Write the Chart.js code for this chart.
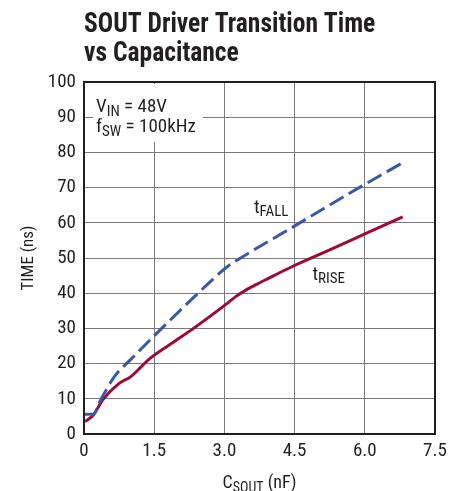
<!DOCTYPE html>
<html>
<head>
<meta charset="utf-8">
<script src="https://cdn.jsdelivr.net/npm/chart.js@4.4.1/dist/chart.umd.min.js"></script>
<style>
  html, body { margin: 0; padding: 0; background: #fff; }
  #wrap { width: 472px; height: 491px; position: relative; }
</style>
</head>
<body>
<div id="wrap"><canvas id="tChart"></canvas></div>
<script>
const FONT = "'Liberation Sans Narrow', 'Roboto Condensed', 'DejaVu Sans Condensed', sans-serif";

// values
const fallCap = [0.0, 0.2, 0.35, 0.65, 1.0, 1.41, 2.0, 2.5, 3.06, 3.31, 4.4, 5.88, 6.8];
const fallNs  = [5.6, 5.6, 9.5, 16.3, 21.2, 26.7, 34.4, 40.8, 47.5, 49.7, 58.3, 70.0, 77.0];

const riseCap = [0.02, 0.2, 0.4, 0.75, 1.0, 1.41, 1.9, 2.34, 3.06, 3.25, 3.45, 3.7, 3.91, 4.41, 5.25, 6.06, 6.81];
const riseNs  = [3.5, 5.4, 9.7, 14.4, 16.3, 21.5, 26.0, 30.0, 37.1, 39.1, 40.8, 42.6, 44.0, 47.3, 52.3, 57.2, 61.7];

const xTicks = [0, 1.5, 3.0, 4.5, 6.0, 7.5];
const xTickLabels = ["0", "1.5", "3.0", "4.5", "6.0", "7.5"];

const toPts = (xs, ys) => xs.map((x, i) => ({ x: x, y: ys[i] }));

// text with subscript helper
function subText(ctx, x, y, main, sub, size, subSize, drop) {
    ctx.font = size + "px " + FONT;
    ctx.fillText(main, x, y);
    const w = ctx.measureText(main).width;
    ctx.font = subSize + "px " + FONT;
    ctx.fillText(sub, x + w, y + drop);
    return x + w + ctx.measureText(sub).width;
}

const decor = {
    id: "decor",
    afterDraw(chart) {
        const ctx = chart.ctx;
        const a = chart.chartArea;
        const xs = chart.scales.x;
        const ys = chart.scales.y;
        ctx.save();
        ctx.fillStyle = "#231f20";
        ctx.textBaseline = "alphabetic";
        ctx.textAlign = "left";

        // title (squeezed a bit, the original face is condensed)
        ctx.save();
        ctx.translate(a.left, 0);
        ctx.scale(0.912, 1);
        ctx.font = "bold 28px " + FONT;
        ctx.fillText("SOUT Driver Transition Time", 0, 32);
        ctx.fillText("vs Capacitance", 0, 61);
        ctx.restore();

        // condition box
        ctx.fillStyle = "#fff";
        ctx.fillRect(a.left + 9, a.top + 2, 110, 58);
        ctx.fillStyle = "#231f20";
        let end = subText(ctx, a.left + 12, a.top + 30, "V", "IN", 19, 15, 4);
        ctx.font = "19px " + FONT;
        ctx.fillText(" = 48V", end, a.top + 30);
        end = subText(ctx, a.left + 12, a.top + 50, "f", "SW", 19, 15, 4);
        ctx.font = "19px " + FONT;
        ctx.fillText(" = 100kHz", end, a.top + 50);

        // curve labels
        subText(ctx, xs.getPixelForValue(3.63), ys.getPixelForValue(62.8), "t", "FALL", 19, 15, 3);
        subText(ctx, xs.getPixelForValue(4.88), ys.getPixelForValue(43.8), "t", "RISE", 19, 15, 3);

        // axis titles
        ctx.font = "18px " + FONT;
        const cw = ctx.measureText("C").width;
        ctx.font = "14px " + FONT;
        const sw = ctx.measureText("SOUT").width;
        ctx.font = "18px " + FONT;
        const rw = ctx.measureText(" (nF)").width;
        const tx = (a.left + a.right) / 2 - (cw + sw + rw) / 2;
        end = subText(ctx, tx, 488, "C", "SOUT", 18, 14, 4);
        ctx.font = "18px " + FONT;
        ctx.fillText(" (nF)", end, 488);

        ctx.translate(33, (a.top + a.bottom) / 2);
        ctx.rotate(-Math.PI / 2);
        ctx.textAlign = "center";
        ctx.font = "17px " + FONT;
        ctx.fillText("TIME (ns)", 0, 0);
        ctx.restore();

        // frame
        ctx.save();
        ctx.strokeStyle = "#231f20";
        ctx.lineWidth = 2;
        ctx.strokeRect(a.left, a.top, a.right - a.left, a.bottom - a.top);
        ctx.restore();
    }
};

new Chart(document.getElementById("tChart").getContext("2d"), {
    type: "line",
    data: {
        datasets: [
            {
                label: "tFALL",
                data: toPts(fallCap, fallNs),
                borderColor: "#3a58a6",
                borderWidth: 3,
                borderDash: [16, 6],
                pointRadius: 0,
                cubicInterpolationMode: "monotone",
                fill: false
            },
            {
                label: "tRISE",
                data: toPts(riseCap, riseNs),
                borderColor: "#9c0b36",
                borderWidth: 3,
                pointRadius: 0,
                cubicInterpolationMode: "monotone",
                fill: false
            }
        ]
    },
    options: {
        responsive: true,
        maintainAspectRatio: false,
        animation: false,
        layout: { padding: { top: 82, right: 37, left: 0, bottom: 0 } },
        plugins: {
            legend: { display: false },
            tooltip: { enabled: false }
        },
        scales: {
            x: {
                type: "linear",
                min: 0,
                max: 7.5,
                afterFit: s => { s.height = 57; },
                afterBuildTicks: s => { s.ticks = xTicks.map(v => ({ value: v })); },
                ticks: {
                    padding: 6,
                    color: "#231f20",
                    font: { family: FONT, size: 19 },
                    callback: (v) => xTickLabels[xTicks.indexOf(v)] ?? ""
                },
                grid: { color: "#7a7a7a", lineWidth: 1, drawTicks: false },
                border: { display: false }
            },
            y: {
                min: 0,
                max: 100,
                afterFit: s => { s.width = 84; },
                ticks: {
                    stepSize: 10,
                    padding: 8,
                    color: "#231f20",
                    font: { family: FONT, size: 19 }
                },
                grid: { color: "#7a7a7a", lineWidth: 1, drawTicks: false },
                border: { display: false }
            }
        }
    },
    plugins: [decor]
});
</script>
</body>
</html>
